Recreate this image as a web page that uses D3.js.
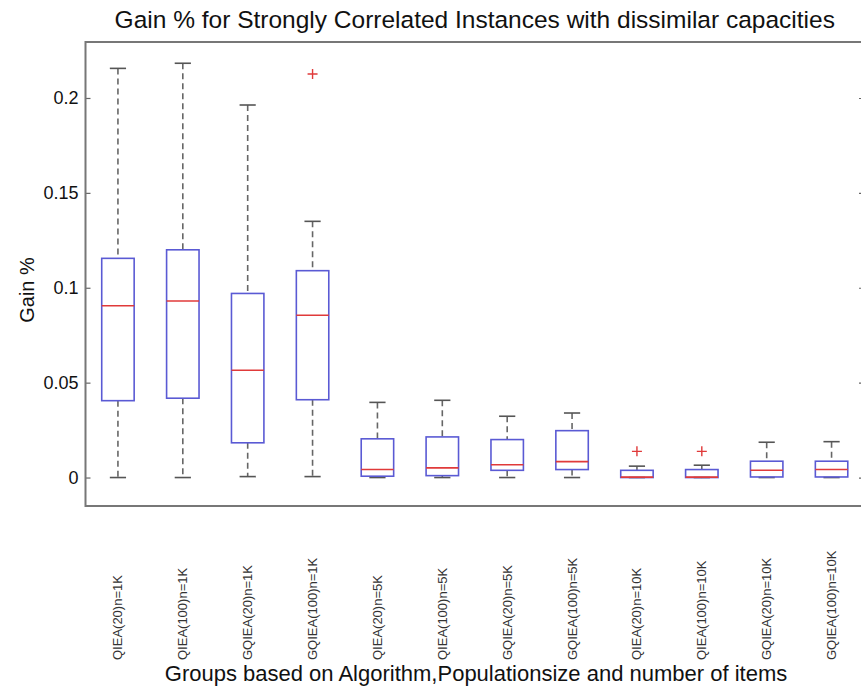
<!DOCTYPE html>
<html>
<head>
<meta charset="utf-8">
<script src="https://cdn.jsdelivr.net/npm/d3@7/dist/d3.min.js"></script>
<style>
	body { margin: 0; background: #fff; }
	text { font-family: Arial, "Liberation Sans", sans-serif; }
</style>
</head>
<body>
<div id="grafica"></div>
<script>
// grupos del eje x
var grupos = ['QIEA(20)n=1K', 'QIEA(100)n=1K', 'GQIEA(20)n=1K', 'GQIEA(100)n=1K',
	'QIEA(20)n=5K', 'QIEA(100)n=5K', 'GQIEA(20)n=5K', 'GQIEA(100)n=5K',
	'QIEA(20)n=10K', 'QIEA(100)n=10K', 'GQIEA(20)n=10K', 'GQIEA(100)n=10K'];

// valores
var bigoteSup = [0.2156, 0.2183, 0.1963, 0.1350, 0.0396, 0.0407, 0.0323, 0.0340, 0.0060, 0.0065, 0.0186, 0.0189];
var cuartil3  = [0.1155, 0.1200, 0.0970, 0.1090, 0.0204, 0.0214, 0.0200, 0.0247, 0.0038, 0.0042, 0.0086, 0.0086];
var mediana   = [0.0905, 0.0930, 0.0565, 0.0855, 0.0042, 0.0051, 0.0067, 0.0084, 0.0002, 0.0002, 0.0038, 0.0042];
var cuartil1  = [0.0405, 0.0418, 0.0183, 0.0410, 0.0007, 0.0010, 0.0038, 0.0042, 0.0000, 0.0000, 0.0003, 0.0003];
var bigoteInf = [0.0000, 0.0000, 0.0005, 0.0005, 0.0000, 0.0000, 0.0000, 0.0000, 0.0000, 0.0000, 0.0000, 0.0000];
var atipicos  = [[], [], [], [0.2126], [], [], [], [], [0.0138], [0.0138], [], []];

var yTicks = [0, 0.05, 0.1, 0.15, 0.2];

var W = 861, H = 686;
var m = {t: 42, r: -3, b: 180, l: 85.5};

var svg = d3.select('#grafica').append('svg')
	.attr('width', W)
	.attr('height', H);

var x = d3.scaleLinear().domain([0.5, 12.5]).range([m.l, W - m.r]);
var y = d3.scaleLinear().domain([-0.015, 0.2295]).range([H - m.b, m.t]);

var anchoCaja = (x(1) - x(0)) * 0.5,
	anchoTope = anchoCaja * 0.5;

var datos = grupos.map(function(g, i) {
	return {
		id: i + 1, nombre: g,
		sup: bigoteSup[i], q3: cuartil3[i], med: mediana[i],
		q1: cuartil1[i], inf: bigoteInf[i], out: atipicos[i]
	};
});

// ejes
var ejeIzq = d3.axisLeft(y).tickValues(yTicks).tickSize(-5).tickPadding(7)
	.tickFormat(d3.format(''));
var ejeDer = d3.axisRight(y).tickValues(yTicks).tickSize(-5).tickFormat('');

var gIzq = svg.append('g').attr('transform', 'translate(' + x(0.5) + ',0)').call(ejeIzq);
var gDer = svg.append('g').attr('transform', 'translate(' + x(12.5) + ',0)').call(ejeDer);
[gIzq, gDer].forEach(function(g) {
	g.select('.domain').remove();
	g.selectAll('line').attr('stroke', '#666').attr('stroke-width', 1.2);
});
gIzq.selectAll('text').attr('font-size', 18).attr('fill', '#111')
	.style('font-family', 'Arial, "Liberation Sans", sans-serif');

// marco
svg.append('rect')
	.attr('x', x(0.5)).attr('y', y(0.2295))
	.attr('width', x(12.5) - x(0.5)).attr('height', y(-0.015) - y(0.2295))
	.attr('fill', 'none')
	.attr('stroke', '#777')
	.attr('stroke-width', 2);

var cajas = svg.selectAll('.grupo').data(datos)
	.enter().append('g')
	.attr('class', 'grupo');

// bigotes
cajas.append('line')
	.attr('x1', function(d) { return x(d.id); })
	.attr('x2', function(d) { return x(d.id); })
	.attr('y1', function(d) { return y(d.sup); })
	.attr('y2', function(d) { return y(d.q3); })
	.attr('stroke', '#666').attr('stroke-width', 1.6).attr('stroke-dasharray', '6,4');
cajas.append('line')
	.attr('x1', function(d) { return x(d.id); })
	.attr('x2', function(d) { return x(d.id); })
	.attr('y1', function(d) { return y(d.q1); })
	.attr('y2', function(d) { return y(d.inf); })
	.attr('stroke', '#666').attr('stroke-width', 1.6).attr('stroke-dasharray', '6,4');

// topes
['sup', 'inf'].forEach(function(k) {
	cajas.append('line')
		.attr('x1', function(d) { return x(d.id) - anchoTope / 2; })
		.attr('x2', function(d) { return x(d.id) + anchoTope / 2; })
		.attr('y1', function(d) { return y(d[k]); })
		.attr('y2', function(d) { return y(d[k]); })
		.attr('stroke', '#555').attr('stroke-width', 1.6);
});

// cajas
cajas.append('rect')
	.attr('x', function(d) { return x(d.id) - anchoCaja / 2; })
	.attr('y', function(d) { return y(d.q3); })
	.attr('width', anchoCaja)
	.attr('height', function(d) { return y(d.q1) - y(d.q3); })
	.attr('fill', 'none')
	.attr('stroke', '#5a5ad4')
	.attr('stroke-width', 1.6);

// medianas
cajas.append('line')
	.attr('x1', function(d) { return x(d.id) - anchoCaja / 2; })
	.attr('x2', function(d) { return x(d.id) + anchoCaja / 2; })
	.attr('y1', function(d) { return y(d.med); })
	.attr('y2', function(d) { return y(d.med); })
	.attr('stroke', '#e03a3a').attr('stroke-width', 1.6);

// atipicos
cajas.each(function(d) {
	var g = d3.select(this);
	d.out.forEach(function(v) {
		var cx = x(d.id), cy = y(v), s = 5;
		g.append('path')
			.attr('d', 'M' + (cx - s) + ',' + cy + 'H' + (cx + s) + 'M' + cx + ',' + (cy - s) + 'V' + (cy + s))
			.attr('stroke', '#e03a3a').attr('stroke-width', 1.4).attr('fill', 'none');
	});
});

// etiquetas del eje x
svg.selectAll('.etiqueta').data(datos)
	.enter().append('text')
	.attr('class', 'etiqueta')
	.attr('transform', function(d) { return 'translate(' + (x(d.id) + 4.5) + ',660) rotate(-90)'; })
	.attr('font-size', 13)
	.attr('fill', '#333')
	.text(function(d) { return d.nombre; });

// titulos
svg.append('text')
	.attr('x', (x(0.5) + x(12.5)) / 2)
	.attr('y', 28)
	.attr('text-anchor', 'middle')
	.attr('font-size', 24.5)
	.attr('fill', '#111')
	.text('Gain % for Strongly Correlated Instances with dissimilar capacities');

svg.append('text')
	.attr('x', 476)
	.attr('y', 681)
	.attr('text-anchor', 'middle')
	.attr('font-size', 22)
	.attr('fill', '#111')
	.text('Groups based on Algorithm,Populationsize and number of items');

svg.append('text')
	.attr('transform', 'translate(34,290) rotate(-90)')
	.attr('text-anchor', 'middle')
	.attr('font-size', 20)
	.attr('fill', '#111')
	.text('Gain %');
</script>
</body>
</html>
